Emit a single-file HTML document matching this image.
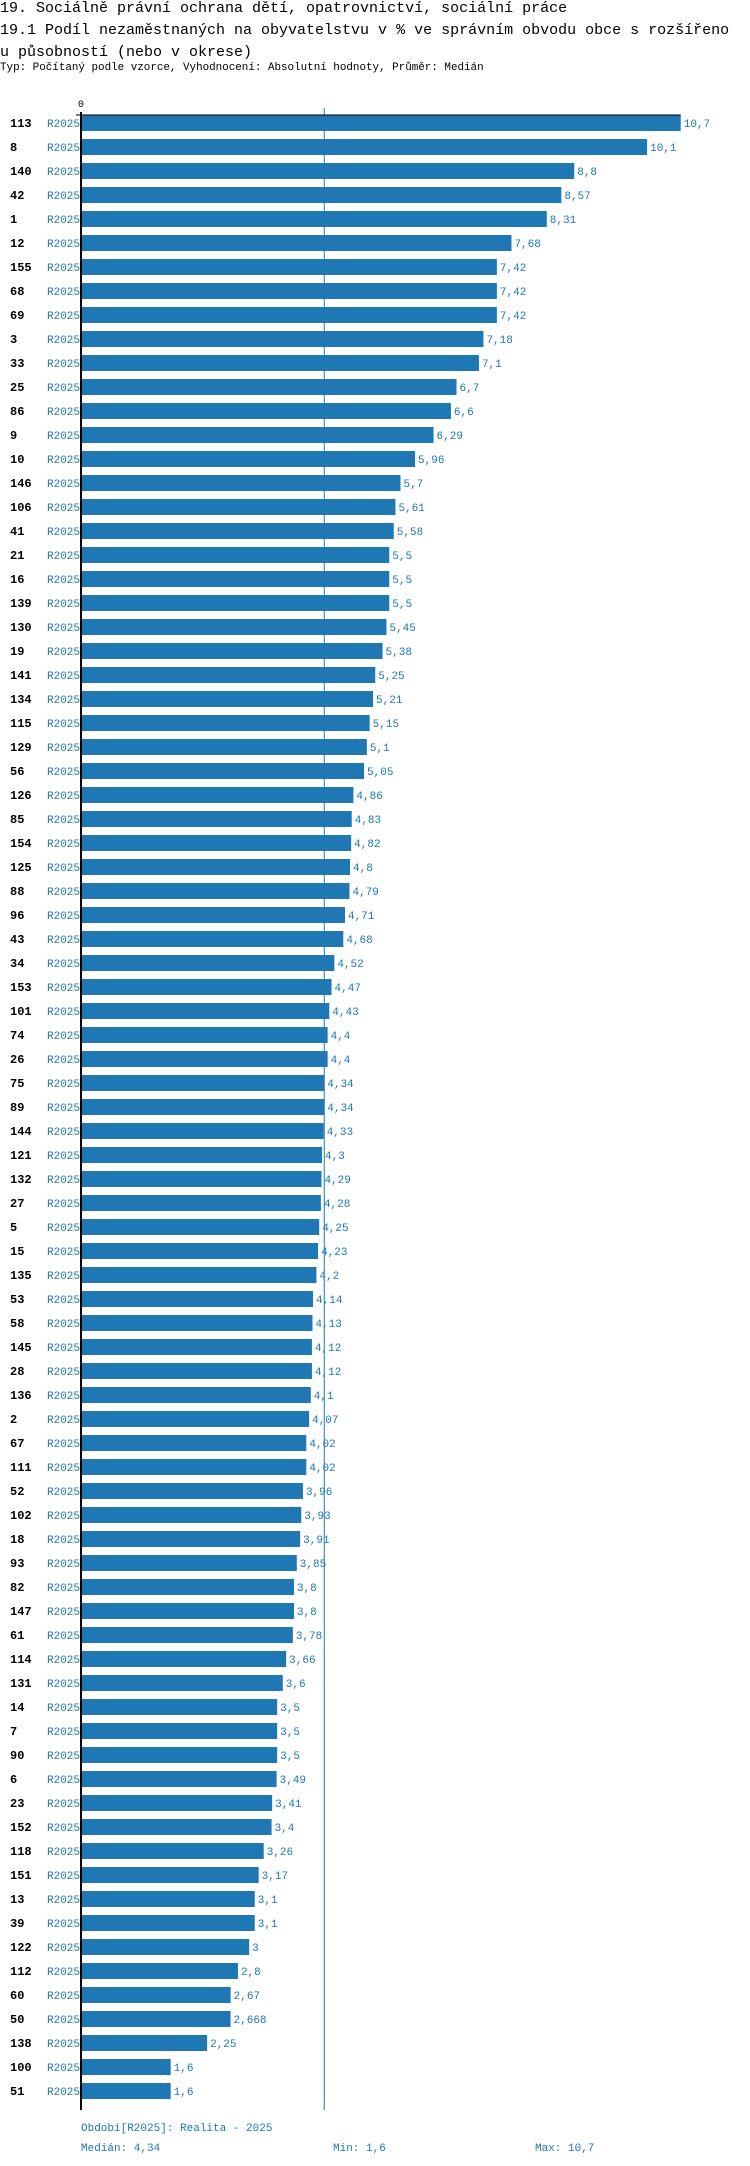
<!DOCTYPE html>
<html><head><meta charset="utf-8"><style>
body{margin:0;background:#fff;width:750px;height:2166px;overflow:hidden;font-family:"Liberation Mono",monospace}
.t{position:absolute;left:0;font-size:15px;color:#000;white-space:nowrap}
.s{position:absolute;left:0;top:62px;font-size:10.9px;color:#000;white-space:nowrap}
</style></head><body>
<div class="t" style="top:0px">19. Sociálně právní ochrana dětí, opatrovnictví, sociální práce</div>
<div class="t" style="top:22px">19.1 Podíl nezaměstnaných na obyvatelstvu v % ve správním obvodu obce s rozšířeno</div>
<div class="t" style="top:44px">u působností (nebo v okrese)</div>
<div class="s">Typ: Počítaný podle vzorce, Vyhodnocení: Absolutní hodnoty, Průměr: Medián</div>
<svg id="chart" width="750" height="2166" style="position:absolute;left:0;top:0" font-family="Liberation Mono, monospace"></svg>
<script>
const ids=[113,8,140,42,1,12,155,68,69,3,33,25,86,9,10,146,106,41,21,16,139,130,19,141,134,115,129,56,126,85,154,125,88,96,43,34,153,101,74,26,75,89,144,121,132,27,5,15,135,53,58,145,28,136,2,67,111,52,102,18,93,82,147,61,114,131,14,7,90,6,23,152,118,151,13,39,122,112,60,50,138,100,51];
const values=[10.7,10.1,8.8,8.57,8.31,7.68,7.42,7.42,7.42,7.18,7.1,6.7,6.6,6.29,5.96,5.7,5.61,5.58,5.5,5.5,5.5,5.45,5.38,5.25,5.21,5.15,5.1,5.05,4.86,4.83,4.82,4.8,4.79,4.71,4.68,4.52,4.47,4.43,4.4,4.4,4.34,4.34,4.33,4.3,4.29,4.28,4.25,4.23,4.2,4.14,4.13,4.12,4.12,4.1,4.07,4.02,4.02,3.96,3.93,3.91,3.85,3.8,3.8,3.78,3.66,3.6,3.5,3.5,3.5,3.49,3.41,3.4,3.26,3.17,3.1,3.1,3,2.8,2.67,2.668,2.25,1.6,1.6];
const labels=["10,7","10,1","8,8","8,57","8,31","7,68","7,42","7,42","7,42","7,18","7,1","6,7","6,6","6,29","5,96","5,7","5,61","5,58","5,5","5,5","5,5","5,45","5,38","5,25","5,21","5,15","5,1","5,05","4,86","4,83","4,82","4,8","4,79","4,71","4,68","4,52","4,47","4,43","4,4","4,4","4,34","4,34","4,33","4,3","4,29","4,28","4,25","4,23","4,2","4,14","4,13","4,12","4,12","4,1","4,07","4,02","4,02","3,96","3,93","3,91","3,85","3,8","3,8","3,78","3,66","3,6","3,5","3,5","3,5","3,49","3,41","3,4","3,26","3,17","3,1","3,1","3","2,8","2,67","2,668","2,25","1,6","1,6"];
const median=[4.34];
const svg=document.getElementById('chart');
const NS='http://www.w3.org/2000/svg';
const X0=81,PX=56.05,Y0=115,STEP=24,BH=16;
const x=v=>X0+v*PX;
const y=i=>Y0+i*STEP;
function mk(tag,attrs,text){const e=document.createElementNS(NS,tag);for(const k in attrs)e.setAttribute(k,attrs[k]);if(text!==undefined)e.textContent=text;svg.appendChild(e);return e;}
const bottom=y(ids.length);
let ml=mk('line',{x1:x(median[0]),x2:x(median[0]),y1:108,y2:bottom+3,stroke:'#1f77b4','stroke-width':1});


let t=mk('text',{x:X0-3,y:107,'font-size':10,fill:'#000'},'0');


ids.forEach((id,i)=>{
  let a=mk('text',{x:10,y:y(i)+12,'font-size':12,'font-weight':'bold',fill:'#000'},String(id));
  
  
  let b=mk('text',{x:47,y:y(i)+12,'font-size':11,fill:'#1f77b4'},'R2025');
  
  
  let r=mk('rect',{x:X0,y:y(i),width:x(values[i])-X0,height:BH,fill:'#1f77b4'});
  
  
  let v=mk('text',{x:x(values[i])+3,y:y(i)+12,'font-size':11,fill:'#1f77b4'},labels[i]);
  
  
});
let ax=mk('line',{x1:X0,x2:X0,y1:112,y2:bottom+3,stroke:'#000','stroke-width':2});


let tl=mk('line',{x1:X0-5,x2:x(values[0]),y1:115,y2:115,stroke:'#000','stroke-width':1});


let f1=mk('text',{x:X0,y:bottom+24,'font-size':11,fill:'#1f77b4'},'Období[R2025]: Realita - 2025');


let f2=mk('text',{x:X0,y:bottom+44,'font-size':11,fill:'#1f77b4'},'Medián: 4,34');


let f3=mk('text',{x:333,y:bottom+44,'font-size':11,fill:'#1f77b4'},'Min: 1,6');


let f4=mk('text',{x:535,y:bottom+44,'font-size':11,fill:'#1f77b4'},'Max: 10,7');


</script>
</body></html>
